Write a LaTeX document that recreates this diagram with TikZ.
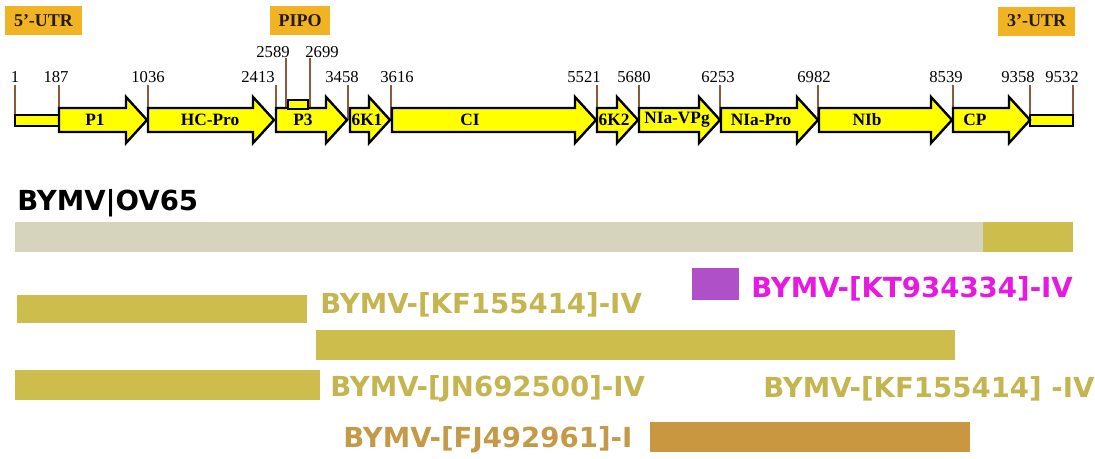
\documentclass[tikz,border=0pt]{standalone}
\usepackage{fontspec}
\setmainfont{Liberation Serif}
\newfontfamily\barfont{DejaVu Sans}
\usetikzlibrary{positioning}
\definecolor{geneyellow}{HTML}{FFFF00}
\definecolor{utrorange}{HTML}{F0B323}
\definecolor{tickbrown}{HTML}{8C5A3C}
\definecolor{greybar}{HTML}{D6D4BD}
\definecolor{olivebar}{HTML}{CCBD4C}
\definecolor{olivetext}{HTML}{C4B550}
\definecolor{purplebox}{HTML}{B050C8}
\definecolor{magentatext}{HTML}{E619E0}
\definecolor{fjbar}{HTML}{C99740}
\definecolor{fjtext}{HTML}{C49A48}

\begin{document}
\begin{tikzpicture}[x=0.75pt, y=-0.75pt,
  gene/.style={draw=black, line width=1.8pt, fill=geneyellow},
  utr/.style={fill=utrorange, minimum width=#1, minimum height=21.75pt, inner sep=0pt,
    font=\fontsize{13.5}{15}\selectfont\bfseries, text=black!80!brown},
  tick/.style={draw=tickbrown, line width=1.4pt},
  num/.style={inner sep=0pt, font=\fontsize{12.5}{14}\selectfont},
  glab/.style={inner sep=0pt, font=\fontsize{13}{15}\selectfont\bfseries},
  lbl/.style={anchor=west, inner sep=0pt, font=\barfont\bfseries\fontsize{20.7}{24}\selectfont, text=#1},
  lbl/.default=olivetext]
\useasboundingbox (0,0) rectangle (1095,458);

% region boxes on top
\node[utr=57.75pt] (utr5) at (43.5,20.5) {5'-UTR};
\node[utr=45pt] (pipo) at (300,20.5) {PIPO};
\node[utr=57.75pt] (utr3) at (1036.5,21) {3'-UTR};

% positions
\node[num] (n1) at (15,77) {1};
\node[num] (n187) at (56,77) {187};
\node[num] (n1036) at (148,77) {1036};
\node[num] (n2413) at (258,77) {2413};
\node[num] (n2589) at (273,52) {2589};
\node[num] (n2699) at (322,52) {2699};
\node[num] (n3458) at (342,77) {3458};
\node[num] (n3616) at (397,77) {3616};
\node[num] (n5521) at (584,77) {5521};
\node[num] (n5680) at (634,77) {5680};
\node[num] (n6253) at (718,77) {6253};
\node[num] (n6982) at (814,77) {6982};
\node[num] (n8539) at (946,77) {8539};
\node[num] (n9358) at (1018,77) {9358};
\node[num] (n9532) at (1062,77) {9532};

\draw[tick] (15,85) -- (15,120);
\draw[tick] (59,85) -- (59,120);
\draw[tick] (148,85) -- (148,120);
\draw[tick] (276,85) -- (276,120);
\draw[tick] (286,58) -- (286,108);
\draw[tick] (310,58) -- (310,108);
\draw[tick] (348,85) -- (348,120);
\draw[tick] (391,85) -- (391,120);
\draw[tick] (597,85) -- (597,120);
\draw[tick] (639,85) -- (639,120);
\draw[tick] (720,85) -- (720,120);
\draw[tick] (818,85) -- (818,120);
\draw[tick] (953,85) -- (953,120);
\draw[tick] (1030,85) -- (1030,120);
\draw[tick] (1073,85) -- (1073,120);

% genome
\draw[gene] (15,115) rectangle (59,126);
\draw[gene] (1030,115) rectangle (1073,126);
\draw[gene] (59,108) -- (126,108) -- (126,97) -- (147,120) -- (126,143) -- (126,132) -- (59,132) -- cycle;
\draw[gene] (148,108) -- (253,108) -- (253,97) -- (274,120) -- (253,143) -- (253,132) -- (148,132) -- cycle;
\draw[gene] (276,108) -- (326,108) -- (326,97) -- (347,120) -- (326,143) -- (326,132) -- (276,132) -- cycle;
\draw[gene] (350,108) -- (369,108) -- (369,97) -- (390,120) -- (369,143) -- (369,132) -- (350,132) -- cycle;
\draw[gene] (392,108) -- (575,108) -- (575,97) -- (596,120) -- (575,143) -- (575,132) -- (392,132) -- cycle;
\draw[gene] (597,108) -- (617,108) -- (617,97) -- (638,120) -- (617,143) -- (617,132) -- (597,132) -- cycle;
\draw[gene] (639,108) -- (699,108) -- (699,97) -- (720,120) -- (699,143) -- (699,132) -- (639,132) -- cycle;
\draw[gene] (721,108) -- (797,108) -- (797,97) -- (818,120) -- (797,143) -- (797,132) -- (721,132) -- cycle;
\draw[gene] (819,108) -- (931,108) -- (931,97) -- (952,120) -- (931,143) -- (931,132) -- (819,132) -- cycle;
\draw[gene] (953,108) -- (1009,108) -- (1009,97) -- (1030,120) -- (1009,143) -- (1009,132) -- (953,132) -- cycle;
\draw[gene] (288,100) rectangle (308,109);

\node[glab] (p1) at (95,120) {P1};
\node[glab] (hcpro) at (210,120) {HC-Pro};
\node[glab] (p3) at (303,120) {P3};
\node[glab] (k1) at (367,120) {6K1};
\node[glab] (ci) at (470,120) {CI};
\node[glab] (k2) at (614,120) {6K2};
\node[glab] (vpg) at (677,120) {NIa-VPg};
\node[glab] (nia) at (761,120) {NIa-Pro};
\node[glab] (nib) at (867,120) {NIb};
\node[glab] (cp) at (975,120) {CP};

% isolates
\node[lbl=black] (ov65) at (17,203) {BYMV|OV65};
\fill[greybar] (15,222) rectangle (983,252);
\fill[olivebar] (983,222) rectangle (1073,252);

\fill[olivebar] (17,295) rectangle (307,323);
\node[lbl] (kf1) at (320,305) {BYMV-[KF155414]-IV};
\fill[purplebox] (692,268) rectangle (739,300);
\node[lbl=magentatext] (kt) at (751,289) {BYMV-[KT934334]-IV};
\fill[olivebar] (316,330) rectangle (955,360);
\fill[olivebar] (15,370) rectangle (320,400);
\node[lbl] (jn) at (330,389) {BYMV-[JN692500]-IV};
\node[lbl] (kf2) at (763,389) {BYMV-[KF155414] -IV};
\node[lbl=fjtext] (fj) at (343,440) {BYMV-[FJ492961]-I};
\fill[fjbar] (650,422) rectangle (970,452);
\end{tikzpicture}
\end{document}
